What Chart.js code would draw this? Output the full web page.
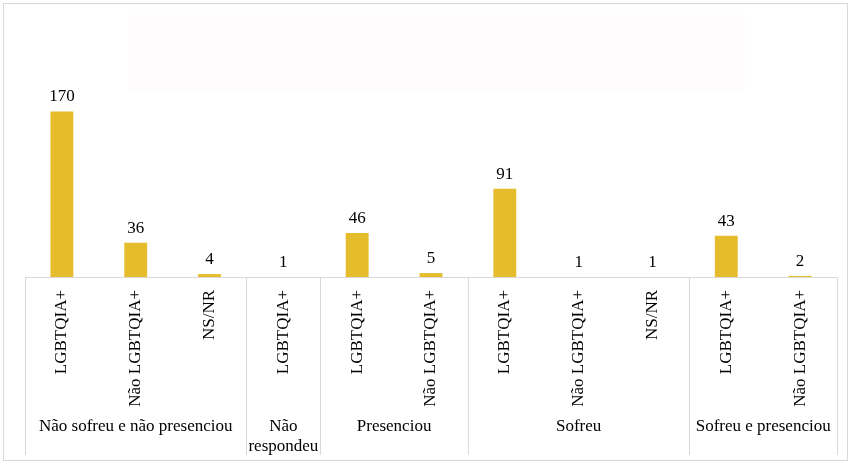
<!DOCTYPE html>
<html>
<head>
<meta charset="utf-8">
<script src="https://cdn.jsdelivr.net/npm/chart.js@4/dist/chart.umd.min.js"></script>
<style>
html,body{margin:0;padding:0;background:#fff;}
#wrap{width:851px;height:464px;}
</style>
</head>
<body>
<div id="wrap"><canvas id="c" width="851" height="464"></canvas></div>
<script>
const categories = ["LGBTQIA+","Não LGBTQIA+","NS/NR","LGBTQIA+","LGBTQIA+","Não LGBTQIA+","LGBTQIA+","Não LGBTQIA+","NS/NR","LGBTQIA+","Não LGBTQIA+"];
const values = [170,36,4,1,46,5,91,1,1,43,2];
const groupLabels = [["Não sofreu e não presenciou"],["Não","respondeu"],["Presenciou"],["Sofreu"],["Sofreu e presenciou"]];
const groupSizes = [3,1,2,3,2];

const FONT = '"Liberation Serif", "Times New Roman", serif';

const decor = {
  id: 'decor',
  beforeDraw(chart) {
    const ctx = chart.ctx;
    ctx.save();
    ctx.fillStyle = '#fefcfd';
    ctx.fillRect(128, 15, 617, 77);
    ctx.restore();
  },
  afterDraw(chart) {
    const ctx = chart.ctx;
    const area = chart.chartArea;
    ctx.save();
    // outer border
    ctx.strokeStyle = '#d9d9d9';
    ctx.lineWidth = 1;
    ctx.strokeRect(3.5, 3.5, 844, 457);
    // axis line over bars
    const axisY = Math.round(area.bottom) - 0.5;
    ctx.beginPath();
    ctx.moveTo(area.left, axisY);
    ctx.lineTo(area.right, axisY);
    ctx.stroke();
    // value labels
    const meta = chart.getDatasetMeta(0);
    ctx.fillStyle = '#000';
    ctx.font = '17px ' + FONT;
    ctx.textAlign = 'center';
    ctx.textBaseline = 'alphabetic';
    meta.data.forEach((bar, i) => {
      ctx.fillText(String(values[i]), bar.x, bar.y - 10);
    });
    // group separators and labels
    const step = (area.right - area.left) / categories.length;
    ctx.strokeStyle = '#d9d9d9';
    ctx.beginPath();
    let idx = 0;
    const bounds = [area.left];
    groupSizes.forEach(n => { idx += n; bounds.push(area.left + idx * step); });
    bounds.forEach(b => {
      const px = Math.round(b) + 0.5;
      ctx.moveTo(px, axisY);
      ctx.lineTo(px, 455);
    });
    ctx.stroke();
    ctx.fillStyle = '#000';
    groupLabels.forEach((lines, g) => {
      const cx = (bounds[g] + bounds[g + 1]) / 2;
      lines.forEach((t, k) => {
        ctx.fillText(t, cx, 431 + k * 20);
      });
    });
    ctx.restore();
  }
};

new Chart(document.getElementById('c'), {
  type: 'bar',
  data: {
    labels: categories,
    datasets: [{
      data: values,
      backgroundColor: '#E5BC2B',
      borderWidth: 0,
      categoryPercentage: 1,
      barPercentage: 0.31
    }]
  },
  options: {
    responsive: false,
    animation: false,
    layout: { padding: { left: 25, right: 14, top: 82, bottom: 0 } },
    plugins: { legend: { display: false }, tooltip: { enabled: false }, title: { display: false } },
    scales: {
      y: { display: false, min: 0, max: 200 },
      x: {
        grid: { display: false, drawTicks: false },
        border: { display: false },
        ticks: {
          color: '#000',
          font: { family: FONT, size: 17 },
          minRotation: 90,
          maxRotation: 90,
          padding: 12,
          autoSkip: false
        },
        afterFit(scale) { scale.height = 186; }
      }
    }
  },
  plugins: [decor]
});
</script>
</body>
</html>
